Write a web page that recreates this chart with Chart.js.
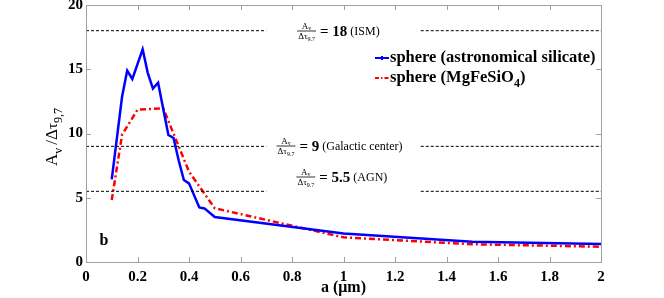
<!DOCTYPE html>
<html>
<head>
<meta charset="utf-8">
<script src="https://cdn.jsdelivr.net/npm/chart.js@4.4.0/dist/chart.umd.min.js"></script>
<style>
  html, body { margin: 0; padding: 0; background: #fff; }
  canvas { display: block; }
</style>
</head>
<body>
<canvas id="sizeChart" width="664" height="298"></canvas>
<script>
// grain radius a (um) and Av / dtau for the two sphere models
const silicateRadius = [0.1, 0.14, 0.16, 0.18, 0.2, 0.22, 0.24, 0.26, 0.28, 0.3, 0.32, 0.34, 0.36, 0.38, 0.4, 0.44, 0.46, 0.5, 1.0, 1.5, 2.0];
const silicateRatio = [6.43, 12.86, 14.9, 14.24, 15.4, 16.55, 14.7, 13.5, 13.95, 11.9, 9.88, 9.65, 7.9, 6.38, 6.12, 4.25, 4.17, 3.5, 2.22, 1.58, 1.4];
const mgfeRadius = [0.1, 0.14, 0.2, 0.3, 0.4, 0.5, 1.0, 1.5, 2.0];
const mgfeRatio = [4.82, 9.9, 11.85, 11.96, 7.03, 4.18, 1.92, 1.38, 1.19];

// reference ratios (dashed lines) and their labels
const refRatios = [18, 9, 5.5];
const refValues = ['18', '9', '5.5'];
const refNames = ['(ISM)', '(Galactic center)', '(AGN)'];
const refLabelX = [0.82, 0.74, 0.817];
const refLabelY = [18, 9, 6.6];
const refGap = [0.7, 1.3]; // the dashed line is cut here for the label

const xTicks = [0, 0.2, 0.4, 0.6, 0.8, 1, 1.2, 1.4, 1.6, 1.8, 2];
const yTicks = [0, 5, 10, 15, 20];

const serif = '"Liberation Serif", "Times New Roman", serif';

const toPoints = (xs, ys) => xs.map((v, i) => ({ x: v, y: ys[i] }));

const refSets = refRatios.map(r => ({
    data: [{ x: 0, y: r }, { x: refGap[0], y: r }, { x: 1, y: null }, { x: refGap[1], y: r }, { x: 2, y: r }],
    borderColor: '#000',
    borderWidth: 1,
    borderDash: [3, 2],
    pointRadius: 0,
    spanGaps: false
}));

function drawRatio(ctx, left, midY, value, name) {
    const f = s => s + 'px ' + serif;
    ctx.font = f(9); const aW = ctx.measureText('A').width;
    ctx.font = f(6); const vW = ctx.measureText('v').width;
    ctx.font = f(9); const dW = ctx.measureText('\u0394\u03c4').width;
    ctx.font = f(6); const sW = ctx.measureText('9.7').width;
    const barW = Math.max(aW + vW, dW + sW) + 2;
    const cx = left + barW / 2;
    const nx = cx - (aW + vW) / 2;
    ctx.font = f(9); ctx.fillText('A', nx, midY - 2);
    ctx.font = f(6); ctx.fillText('v', nx + aW, midY - 1);
    ctx.fillRect(left, midY - 0.4, barW, 0.8);
    const dx = cx - (dW + sW) / 2;
    ctx.font = f(9); ctx.fillText('\u0394\u03c4', dx, midY + 8);
    ctx.font = f(6); ctx.fillText('9.7', dx + dW, midY + 10);
    ctx.font = 'bold 15px ' + serif;
    let tx = left + barW + 4;
    ctx.fillText('= ' + value, tx, midY + 5);
    tx += ctx.measureText('= ' + value).width + 3;
    ctx.font = f(12);
    ctx.fillText(name, tx, midY + 4);
}

const decorations = {
    id: 'decorations',
    afterDatasetsDraw(chart) {
        const { ctx, chartArea: a, scales: { x, y } } = chart;
        ctx.save();

        // box with inward ticks
        ctx.strokeStyle = '#a0a0a0';
        ctx.lineWidth = 1;
        ctx.strokeRect(a.left + 0.5, a.top + 0.5, a.right - a.left, a.bottom - a.top);
        ctx.beginPath();
        xTicks.forEach(v => {
            const px = Math.round(x.getPixelForValue(v)) + 0.5;
            ctx.moveTo(px, a.bottom); ctx.lineTo(px, a.bottom - 5);
            ctx.moveTo(px, a.top); ctx.lineTo(px, a.top + 5);
        });
        yTicks.forEach(v => {
            const py = Math.round(y.getPixelForValue(v)) + 0.5;
            ctx.moveTo(a.left, py); ctx.lineTo(a.left + 5, py);
            ctx.moveTo(a.right, py); ctx.lineTo(a.right - 5, py);
        });
        ctx.stroke();

        ctx.fillStyle = '#000';
        ctx.textBaseline = 'alphabetic';
        ctx.textAlign = 'left';

        // reference labels
        refRatios.forEach((r, i) => {
            drawRatio(ctx, x.getPixelForValue(refLabelX[i]), Math.round(y.getPixelForValue(refLabelY[i])), refValues[i], refNames[i]);
        });

        // panel letter
        ctx.font = 'bold 16px ' + serif;
        ctx.fillText('b', x.getPixelForValue(0.052), y.getPixelForValue(1.3));

        // legend
        const lx = 375, ly1 = 58, ly2 = 78;
        ctx.lineWidth = 2;
        ctx.strokeStyle = '#0000ff';
        ctx.beginPath(); ctx.moveTo(lx, ly1); ctx.lineTo(lx + 14, ly1);
        ctx.moveTo(lx + 7, ly1 - 2); ctx.lineTo(lx + 7, ly1 + 2); ctx.stroke();
        ctx.strokeStyle = '#ff0000';
        ctx.setLineDash([4, 2, 1.5, 2]);
        ctx.beginPath(); ctx.moveTo(lx, ly2); ctx.lineTo(lx + 14, ly2); ctx.stroke();
        ctx.setLineDash([]);
        ctx.textBaseline = 'middle';
        const legendFont = 'bold 16.5px ' + serif;
        ctx.font = legendFont;
        ctx.fillText('sphere (astronomical silicate)', lx + 15, ly1);
        let t = 'sphere (MgFeSiO';
        ctx.fillText(t, lx + 15, ly2);
        let w = ctx.measureText(t).width;
        ctx.font = 'bold 12px ' + serif;
        ctx.fillText('4', lx + 15 + w, ly2 + 6);
        w += ctx.measureText('4').width;
        ctx.font = legendFont;
        ctx.fillText(')', lx + 15 + w, ly2);

        // axis titles
        ctx.font = 'bold 16px ' + serif;
        ctx.textAlign = 'center';
        ctx.fillText('a (\u03bcm)', (a.left + a.right) / 2, 288);

        ctx.translate(57, 137);
        ctx.rotate(-Math.PI / 2);
        ctx.textBaseline = 'alphabetic';
        ctx.textAlign = 'left';
        const parts = [['A', 17, 0], ['v ', 12, 5], ['/\u0394', 17, 0], ['\u03c4', 15, 0], ['9,7', 12, 5]];
        let total = 0;
        parts.forEach(p => { ctx.font = p[1] + 'px ' + serif; total += ctx.measureText(p[0]).width; });
        let px = -total / 2;
        parts.forEach(p => {
            ctx.font = p[1] + 'px ' + serif;
            ctx.fillText(p[0], px, p[2]);
            px += ctx.measureText(p[0]).width;
        });

        ctx.restore();
    }
};

new Chart(document.getElementById('sizeChart'), {
    type: 'line',
    data: {
        datasets: [
            ...refSets,
            {
                label: 'sphere (astronomical silicate)',
                data: toPoints(silicateRadius, silicateRatio),
                borderColor: '#0000ff',
                borderWidth: 2.5,
                pointRadius: 0,
                tension: 0
            },
            {
                label: 'sphere (MgFeSiO4)',
                data: toPoints(mgfeRadius, mgfeRatio),
                borderColor: '#ff0000',
                borderWidth: 2.5,
                borderDash: [6, 3, 2, 3],
                pointRadius: 0,
                tension: 0
            }
        ]
    },
    options: {
        responsive: false,
        animation: false,
        devicePixelRatio: 1,
        layout: { padding: { top: 5, right: 63, bottom: 0, left: 0 } },
        plugins: {
            legend: { display: false },
            tooltip: { enabled: false }
        },
        scales: {
            x: {
                type: 'linear',
                min: 0,
                max: 2,
                grid: { display: false, drawTicks: false },
                border: { display: false },
                afterBuildTicks: axis => { axis.ticks = xTicks.map(v => ({ value: v })); },
                afterFit: axis => { axis.height = 36; axis.paddingLeft = 0; axis.paddingRight = 0; },
                ticks: {
                    padding: 6,
                    color: '#000',
                    maxRotation: 0,
                    autoSkip: false,
                    font: { family: serif, size: 15, weight: 'bold' },
                    callback: v => String(v)
                }
            },
            y: {
                min: 0,
                max: 20,
                grid: { display: false, drawTicks: false },
                border: { display: false },
                afterBuildTicks: axis => { axis.ticks = yTicks.map(v => ({ value: v })); },
                afterFit: axis => { axis.width = 86; axis.paddingTop = 0; axis.paddingBottom = 0; },
                ticks: {
                    padding: 3,
                    color: '#000',
                    font: { family: serif, size: 15, weight: 'bold' },
                    callback: v => String(v)
                }
            }
        }
    },
    plugins: [decorations]
});
</script>
</body>
</html>
